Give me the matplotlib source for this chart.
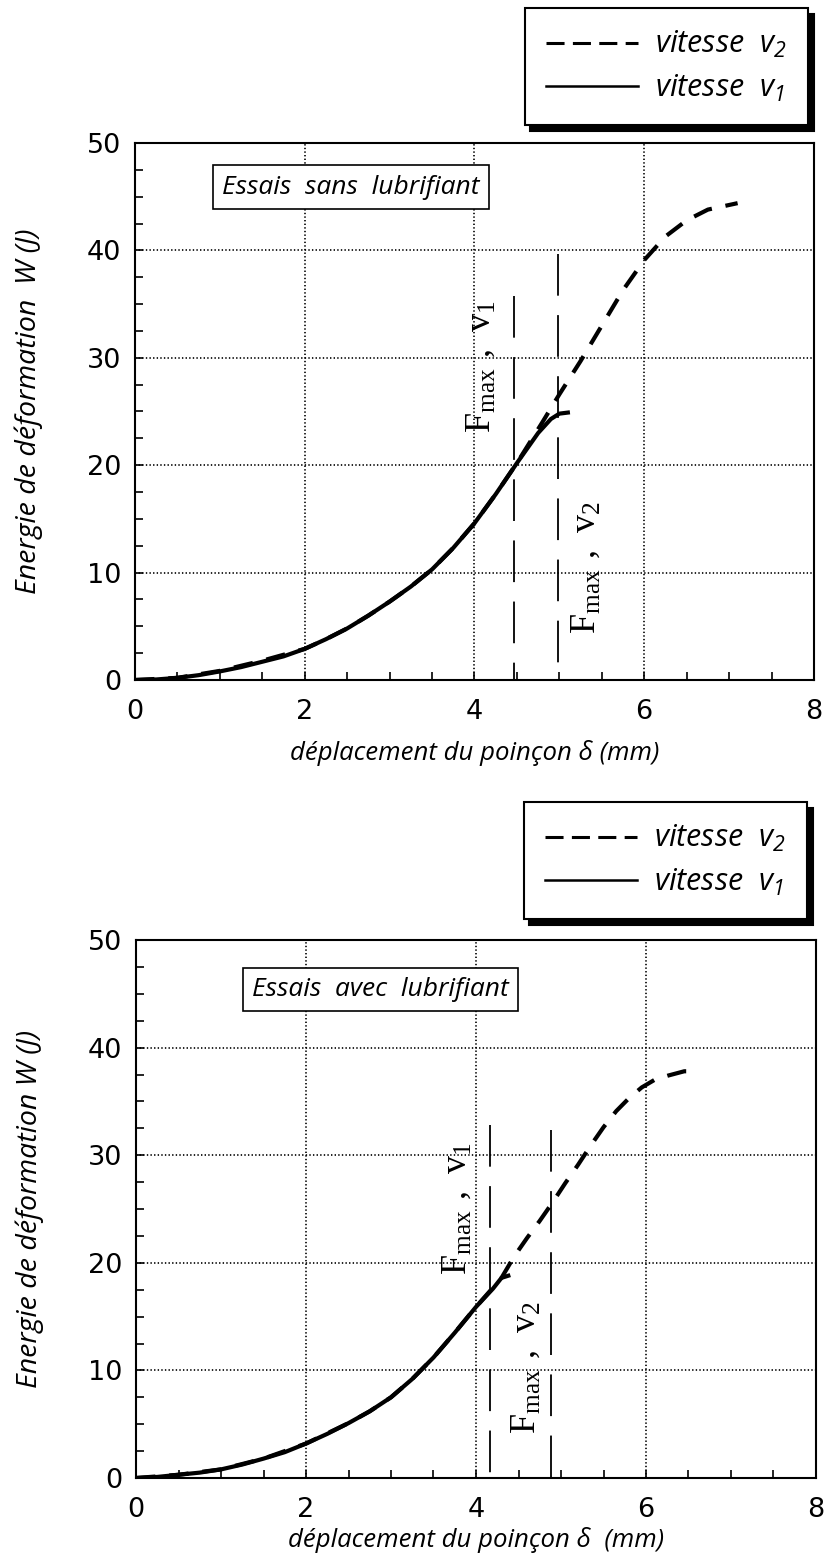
import matplotlib
matplotlib.use("Agg")
import matplotlib.pyplot as plt
from matplotlib.lines import Line2D
from matplotlib.ticker import MultipleLocator

plt.rcParams['font.family'] = ['Open Sans', 'DejaVu Sans']
plt.rcParams['mathtext.fontset'] = 'custom'
plt.rcParams['mathtext.rm'] = 'Liberation Serif'
plt.rcParams['mathtext.it'] = 'Open Sans:italic'
plt.rcParams['mathtext.sf'] = 'Open Sans:italic'
plt.rcParams['mathtext.bf'] = 'Liberation Serif:bold'
plt.rcParams['lines.scale_dashes'] = False

# --- essais sans lubrifiant ---
x_v1_sans = [0, 0.25, 0.5, 0.75, 1.0, 1.25, 1.5, 1.75, 2.0, 2.25, 2.5, 2.75, 3.0,
             3.25, 3.5, 3.75, 4.0, 4.25, 4.5, 4.75, 4.9, 5.0, 5.1]
w_v1_sans = [0, 0.05, 0.2, 0.45, 0.8, 1.2, 1.7, 2.2, 2.9, 3.8, 4.8, 6.0, 7.3,
             8.7, 10.3, 12.3, 14.6, 17.3, 20.2, 23.0, 24.3, 24.8, 24.9]
x_v2_sans = [0, 0.5, 1.0, 1.5, 2.0, 2.25, 2.5, 2.75, 3.0, 3.25, 3.5, 3.75, 4.0,
             4.25, 4.5, 4.8, 5.0, 5.25, 5.5, 5.75, 6.0, 6.25, 6.5, 6.75, 7.1]
w_v2_sans = [0, 0.2, 0.85, 1.8, 2.9, 3.8, 4.8, 6.0, 7.3, 8.7, 10.3, 12.3, 14.6,
             17.3, 20.2, 24.0, 26.6, 29.7, 33.0, 36.3, 39.1, 41.3, 42.8, 43.8, 44.4]
fmax_sans = [4.46, 4.98]          # deplacement a Fmax (v1, v2)
fmax_top_sans = [35.8, 39.7]      # hauteur des reperes

# --- essais avec lubrifiant ---
x_v1_avec = [0, 0.25, 0.5, 0.75, 1.0, 1.25, 1.5, 1.75, 2.0, 2.25, 2.5, 2.75, 3.0,
             3.25, 3.5, 3.75, 4.0, 4.2, 4.3, 4.38]
w_v1_avec = [0, 0.1, 0.3, 0.5, 0.8, 1.25, 1.8, 2.4, 3.2, 4.1, 5.1, 6.2, 7.5,
             9.2, 11.2, 13.5, 15.9, 17.6, 18.6, 18.8]
x_v2_avec = [0, 0.5, 1.0, 1.5, 2.0, 2.5, 2.75, 3.0, 3.25, 3.5, 3.75, 4.0, 4.3, 4.45,
             4.6, 4.75, 4.9, 5.05, 5.2, 5.35, 5.5, 5.65, 5.8, 5.95, 6.1, 6.26, 6.45, 6.6]
w_v2_avec = [0, 0.3, 0.8, 1.8, 3.2, 5.1, 6.2, 7.5, 9.2, 11.2, 13.5, 15.9, 18.6, 20.6,
             22.3, 23.9, 25.6, 27.4, 29.1, 30.9, 32.6, 34.1, 35.3, 36.3, 37.0, 37.4,
             37.8, 37.8]
fmax_avec = [4.16, 4.88]
fmax_top_avec = [32.8, 32.3]

x_ticks = [0, 2, 4, 6, 8]
y_ticks = [0, 10, 20, 30, 40, 50]

curve_dash = (14, 10)
fmax_dash = (30, 14)


def setup_axes(ax, xlabel, ylabel, xlab_y):
    ax.set_xlim(0, 8)
    ax.set_ylim(0, 50)
    ax.set_xticks(x_ticks)
    ax.set_yticks(y_ticks)
    ax.xaxis.set_minor_locator(MultipleLocator(0.5))
    ax.yaxis.set_minor_locator(MultipleLocator(2.5))
    ax.tick_params(which='both', direction='in', length=6, width=1.2,
                   top=False, right=False)
    ax.tick_params(axis='x', which='major', pad=14, labelsize=19.5)
    ax.tick_params(axis='y', which='major', pad=10, labelsize=19.5)
    for lab in ax.get_xticklabels() + ax.get_yticklabels():
        lab.set_family('DejaVu Sans')
    ax.grid(True, which='major', color='k', linestyle=(0, (1, 1.6)), linewidth=1.2)
    for s in ax.spines.values():
        s.set_linewidth(1.5)
    ax.set_xlabel(xlabel, fontsize=18.5, style='italic')
    ax.set_ylabel(ylabel, fontsize=20.5, style='italic')
    ax.xaxis.set_label_coords(0.5, xlab_y)
    ax.yaxis.set_label_coords(-0.135, 0.5)


def draw_panel(ax, xs1, ws1, xs2, ws2, fx, ftop, lab1, lab2, title, tpos):
    ax.plot(xs2, ws2, color='k', lw=3.0, dashes=curve_dash, zorder=3)
    ax.plot(xs1, ws1, color='k', lw=3.0, zorder=3)
    # reperes Fmax, traces du haut vers l'axe
    for xf, yt in zip(fx, ftop):
        ax.plot([xf, xf], [yt, 0], color='k', lw=1.3, dashes=fmax_dash, zorder=2)
    ax.text(lab1[0], lab1[1], r"$\mathrm{F_{max}\ ,\ v_{1}}$", rotation=90,
            ha='center', va='center', fontsize=26, zorder=4)
    ax.text(lab2[0], lab2[1], r"$\mathrm{F_{max}\ ,\ v_{2}}$", rotation=90,
            ha='center', va='center', fontsize=26, zorder=4)
    ax.text(tpos[0], tpos[1], title, fontsize=19, style='italic',
            ha='center', va='center', zorder=5,
            bbox=dict(boxstyle='square,pad=0.35', fc='white', ec='k', lw=1.2))


def add_legend(ax, fig, anchor):
    handles = [Line2D([], [], color='k', lw=2.2, dashes=(13, 6)),
               Line2D([], [], color='k', lw=1.8)]
    labels = [r"vitesse  $\mathsf{v}_{\mathsf{2}}$", r"vitesse  $\mathsf{v}_{\mathsf{1}}$"]
    leg = ax.legend(handles, labels, loc='upper right', bbox_to_anchor=anchor,
                    bbox_transform=fig.transFigure, fancybox=False,
                    shadow={'ox': 4, 'oy': -4, 'color': 'k', 'alpha': 1},
                    framealpha=1, edgecolor='k', handlelength=3.0,
                    handletextpad=0.55, borderpad=0.7, labelspacing=0.4,
                    borderaxespad=0,
                    prop={'family': 'Open Sans', 'style': 'italic', 'size': 22})
    leg.get_frame().set_linewidth(1.5)


fig = plt.figure(figsize=(8.28, 15.64), dpi=100)
ax1 = fig.add_axes([135 / 828, 1 - 680 / 1564, 679 / 828, 537 / 1564])
ax2 = fig.add_axes([136 / 828, 1 - 1478 / 1564, 680 / 828, 538 / 1564])

setup_axes(ax1, "déplacement du poinçon δ (mm)", "Energie de déformation  W (J)", -0.112)
setup_axes(ax2, "déplacement du poinçon δ  (mm)", "Energie de déformation W (J)", -0.092)

draw_panel(ax1, x_v1_sans, w_v1_sans, x_v2_sans, w_v2_sans, fmax_sans, fmax_top_sans,
           (4.07, 29.2), (5.31, 10.5), "Essais  sans  lubrifiant", (2.54, 45.9))
draw_panel(ax2, x_v1_avec, w_v1_avec, x_v2_avec, w_v2_avec, fmax_avec, fmax_top_avec,
           (3.77, 25.0), (4.58, 10.3), "Essais  avec  lubrifiant", (2.88, 45.4))

add_legend(ax1, fig, (808 / 828, 1 - 8 / 1564))
add_legend(ax2, fig, (807 / 828, 1 - 802 / 1564))

fig.savefig("out.png", dpi=100)
